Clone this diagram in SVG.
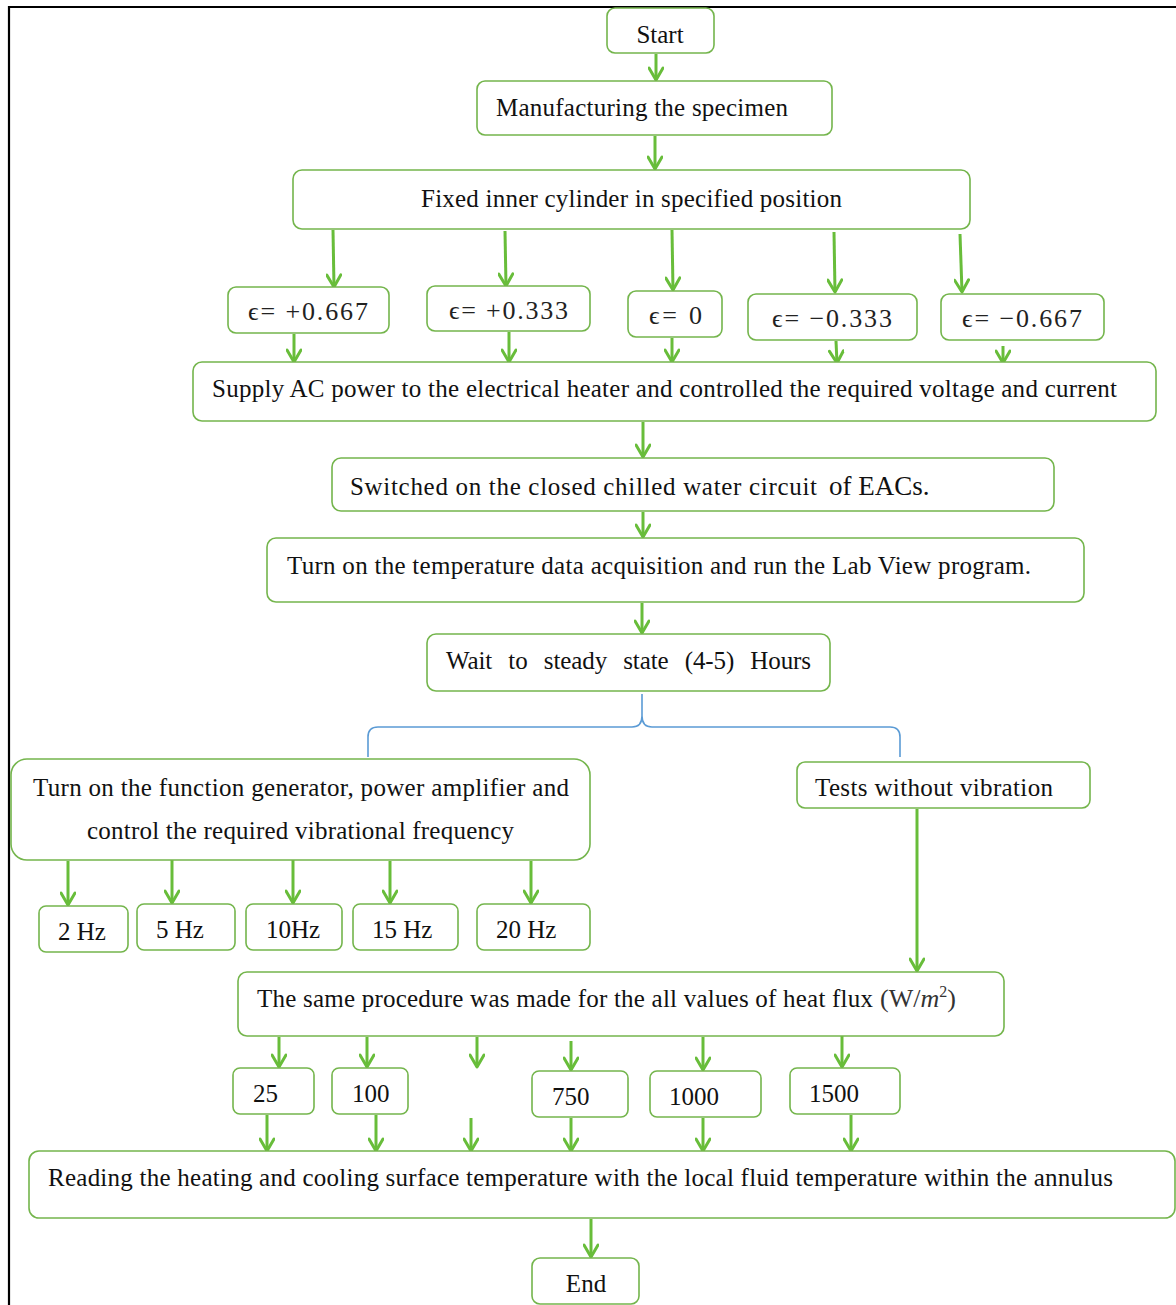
<svg xmlns="http://www.w3.org/2000/svg" width="1176" height="1305" viewBox="0 0 1176 1305">
<style>
.b{fill:#fff;stroke:#74b54c;stroke-width:1.6}
.t{font-family:"Liberation Serif","Times New Roman",serif;font-size:25px;fill:#111}
.m{font-family:"Liberation Serif","DejaVu Serif",serif;font-size:26px;fill:#222}
.c{text-anchor:middle}
.a{stroke:#68bd3a;stroke-width:3;fill:none;marker-end:url(#ah)}
.br{stroke:#5b9bd5;stroke-width:1.6;fill:none}
</style>
<defs>
<marker id="ah" markerUnits="userSpaceOnUse" markerWidth="16" markerHeight="16" viewBox="0 0 16 16" refX="14" refY="8" orient="auto">
<path d="M2,1 L14,8 L2,15" fill="none" stroke="#68bd3a" stroke-width="3" stroke-linejoin="round" stroke-linecap="round"/>
</marker>
</defs>
<rect width="1176" height="1305" fill="#fff"/>
<path d="M9,1305 L9,7 L1176,7" fill="none" stroke="#000" stroke-width="2.2"/>

<g id="connectors">
<line class="a" x1="656" y1="54" x2="656" y2="80"/>
<line class="a" x1="655" y1="136" x2="655" y2="169"/>
<line class="a" x1="333" y1="230" x2="334" y2="287"/>
<line class="a" x1="505" y1="231" x2="506" y2="286"/>
<line class="a" x1="672" y1="230" x2="673" y2="290"/>
<line class="a" x1="834" y1="232" x2="835" y2="292"/>
<line class="a" x1="960" y1="234" x2="962" y2="292"/>
<line class="a" x1="294" y1="334" x2="294" y2="362"/>
<line class="a" x1="509" y1="332" x2="509" y2="362"/>
<line class="a" x1="672" y1="338" x2="672" y2="362"/>
<line class="a" x1="836" y1="341" x2="837" y2="363"/>
<line class="a" x1="1003" y1="346" x2="1003" y2="363"/>
<line class="a" x1="643" y1="422" x2="643" y2="457"/>
<line class="a" x1="643" y1="512" x2="643" y2="537"/>
<line class="a" x1="642" y1="603" x2="642" y2="633"/>
<path class="br" d="M368,757 L368,737 Q368,727 378,727 L632,727 Q642,727 642,716 L642,694 M642,716 Q642,727 652,727 L890,727 Q900,727 900,737 L900,757"/>
<line class="a" x1="68" y1="861" x2="68" y2="905"/>
<line class="a" x1="172" y1="858" x2="172" y2="903"/>
<line class="a" x1="293" y1="858" x2="293" y2="903"/>
<line class="a" x1="390" y1="861" x2="390" y2="903"/>
<line class="a" x1="531" y1="861" x2="531" y2="903"/>
<line class="a" x1="917" y1="809" x2="917" y2="971"/>
<line class="a" x1="279" y1="1037" x2="279" y2="1067"/>
<line class="a" x1="367" y1="1037" x2="367" y2="1067"/>
<line class="a" x1="477" y1="1037" x2="477" y2="1067"/>
<line class="a" x1="571" y1="1041" x2="571" y2="1070"/>
<line class="a" x1="703" y1="1037" x2="703" y2="1070"/>
<line class="a" x1="842" y1="1035" x2="842" y2="1067"/>
<line class="a" x1="267" y1="1115" x2="267" y2="1151"/>
<line class="a" x1="376" y1="1115" x2="376" y2="1151"/>
<line class="a" x1="471" y1="1118" x2="471" y2="1151"/>
<line class="a" x1="571" y1="1118" x2="571" y2="1151"/>
<line class="a" x1="703" y1="1118" x2="703" y2="1151"/>
<line class="a" x1="851" y1="1115" x2="851" y2="1151"/>
<line class="a" x1="591" y1="1219" x2="591" y2="1257"/>
</g>

<g id="start"><rect class="b" x="607" y="8" width="107" height="45" rx="8"/><text class="t c" x="660" y="43">Start</text></g>
<g id="manufacturing"><rect class="b" x="477" y="81" width="355" height="54" rx="8"/><text class="t" x="496" y="116" textLength="292">Manufacturing the specimen</text></g>
<g id="fixed"><rect class="b" x="293" y="170" width="677" height="59" rx="9"/><text class="t" x="421" y="207" textLength="421">Fixed inner cylinder in specified position</text></g>

<g id="eps1"><rect class="b" x="228" y="287" width="161" height="46" rx="8"/><text class="m" x="248" y="320" textLength="120">ϵ= +0.667</text></g>
<g id="eps2"><rect class="b" x="427" y="286" width="163" height="45" rx="8"/><text class="m" x="449" y="319" textLength="119">ϵ= +0.333</text></g>
<g id="eps3"><rect class="b" x="628" y="291" width="94" height="46" rx="8"/><text class="m" x="649" y="324" textLength="53">ϵ= 0</text></g>
<g id="eps4"><rect class="b" x="748" y="294" width="169" height="46" rx="8"/><text class="m" x="772" y="327" textLength="120">ϵ= −0.333</text></g>
<g id="eps5"><rect class="b" x="941" y="294" width="163" height="46" rx="8"/><text class="m" x="962" y="327" textLength="120">ϵ= −0.667</text></g>

<g id="supply"><rect class="b" x="193" y="362" width="963" height="59" rx="9"/><text class="t" x="212" y="397" textLength="905">Supply AC power to the electrical heater and controlled the required voltage and current</text></g>
<g id="switched"><rect class="b" x="332" y="458" width="722" height="53" rx="9"/><text class="t" x="350" y="495"><tspan textLength="474">Switched on the closed chilled water circuit </tspan><tspan x="829" font-size="27">of EACs.</tspan></text></g>
<g id="daq"><rect class="b" x="267" y="538" width="817" height="64" rx="9"/><text class="t" x="287" y="574" textLength="744">Turn on the temperature data acquisition and run the Lab View program.</text></g>
<g id="wait"><rect class="b" x="427" y="634" width="403" height="57" rx="9"/><text class="t" x="446" y="669" word-spacing="10" textLength="365">Wait to steady state (4-5) Hours</text></g>

<g id="function"><rect class="b" x="11" y="759" width="579" height="101" rx="16"/><text class="t" x="33" y="796" textLength="536">Turn on the function generator, power amplifier and</text><text class="t" x="87" y="839" textLength="427">control the required vibrational frequency</text></g>
<g id="novib"><rect class="b" x="797" y="762" width="293" height="46" rx="8"/><text class="t" x="815" y="796" textLength="238">Tests without vibration</text></g>

<g id="hz2"><rect class="b" x="39" y="906" width="89" height="46" rx="7"/><text class="t" x="58" y="940">2 Hz</text></g>
<g id="hz5"><rect class="b" x="137" y="904" width="98" height="46" rx="7"/><text class="t" x="156" y="938">5 Hz</text></g>
<g id="hz10"><rect class="b" x="246" y="904" width="96" height="46" rx="7"/><text class="t" x="266" y="938">10Hz</text></g>
<g id="hz15"><rect class="b" x="353" y="904" width="105" height="46" rx="7"/><text class="t" x="372" y="938">15 Hz</text></g>
<g id="hz20"><rect class="b" x="477" y="904" width="113" height="46" rx="7"/><text class="t" x="496" y="938">20 Hz</text></g>

<g id="heatflux"><rect class="b" x="238" y="972" width="766" height="64" rx="9"/><text class="t" x="257" y="1007"><tspan textLength="616">The same procedure was made for the all values of heat flux</tspan><tspan x="880" font-size="26" fill="#333">(W/</tspan><tspan font-size="26" font-style="italic" fill="#333">m</tspan><tspan font-size="16" dy="-10" fill="#333">2</tspan><tspan font-size="26" dy="10" fill="#333">)</tspan></text></g>

<g id="q25"><rect class="b" x="233" y="1068" width="81" height="46" rx="7"/><text class="t" x="253" y="1102">25</text></g>
<g id="q100"><rect class="b" x="332" y="1068" width="76" height="46" rx="7"/><text class="t" x="352" y="1102">100</text></g>
<g id="q750"><rect class="b" x="532" y="1071" width="96" height="46" rx="7"/><text class="t" x="552" y="1105">750</text></g>
<g id="q1000"><rect class="b" x="650" y="1071" width="111" height="46" rx="7"/><text class="t" x="669" y="1105">1000</text></g>
<g id="q1500"><rect class="b" x="790" y="1068" width="110" height="46" rx="7"/><text class="t" x="809" y="1102">1500</text></g>

<g id="reading"><rect class="b" x="29" y="1151" width="1146" height="67" rx="10"/><text class="t" x="48" y="1186" textLength="1065">Reading the heating and cooling surface temperature with the local fluid temperature within the annulus</text></g>
<g id="end"><rect class="b" x="532" y="1258" width="107" height="46" rx="8"/><text class="t c" x="586" y="1292">End</text></g>
</svg>
